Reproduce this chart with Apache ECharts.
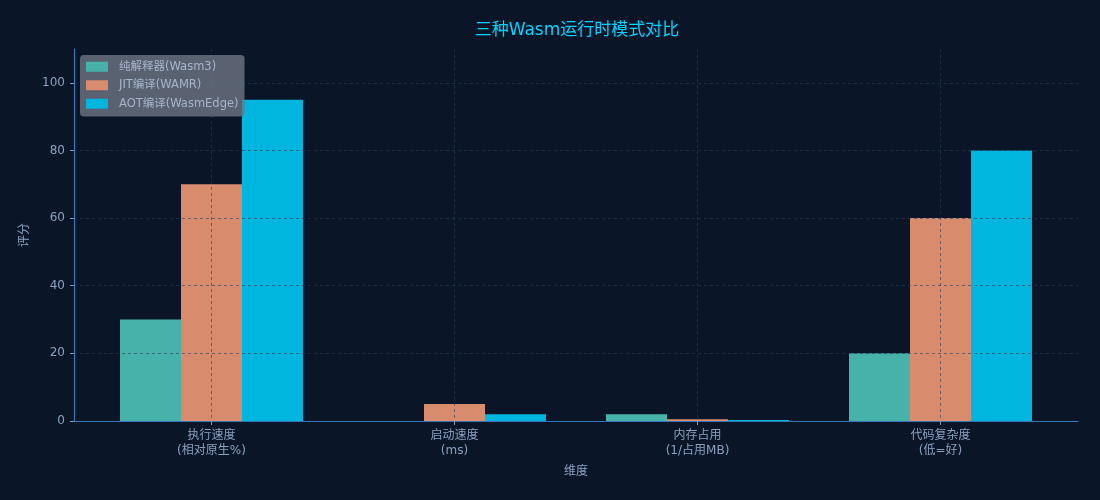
<!DOCTYPE html>
<html>
<head>
<meta charset="utf-8">
<script src="https://cdn.jsdelivr.net/npm/echarts@6/dist/echarts.min.js"></script>
<style>
  html, body { margin: 0; padding: 0; background: #0a1628; }
  #main { width: 1100px; height: 500px; }
</style>
</head>
<body>
<div id="main"></div>
<script>
// 维度 & 各运行时模式评分
var categories = ['执行速度\n(相对原生%)', '启动速度\n(ms)', '内存占用\n(1/占用MB)', '代码复杂度\n(低=好)'];
var seriesNames = ['纯解释器(Wasm3)', 'JIT编译(WAMR)', 'AOT编译(WasmEdge)'];
var interpScores = [30, 0, 2, 20];
var jitScores = [70, 5, 0.5, 60];
var aotScores = [95, 2, 0.3, 80];
var yTicks = [0, 20, 40, 60, 80, 100];

var colors = ['#46b2aa', '#d98b6e', '#00b5de'];
var catIdx = categories.map(function (c, i) { return i; });
var fontFam = 'DejaVu Sans, Noto Sans CJK SC, sans-serif';
var textColor = '#8aa0c0';
var spineColor = '#3575b5';
var gridLine = { show: true, lineStyle: { color: 'rgba(40,60,90,0.6)', type: [3, 3], width: 1 } };

// 两侧留白: 让每个类别正好占 243px, 柱子边缘落在整像素上
var plotWidth = 1004, unitPx = 243;
var sidePad = (plotWidth - (categories.length - 1) * unitPx) / 2 / unitPx;

function toPairs(arr) {
    return arr.map(function (v, i) { return [i, v]; });
}

function barSeries(k, values) {
    return {
        name: seriesNames[k],
        type: 'bar',
        barWidth: 61,
        barGap: '0%',
        data: toPairs(values),
        itemStyle: { color: colors[k] }
    };
}

var myChart = echarts.init(document.getElementById('main'));

var option = {
    backgroundColor: '#0a1628',
    textStyle: { fontFamily: fontFam },
    title: {
        text: '三种Wasm运行时模式对比',
        left: 572,
        textAlign: 'center',
        top: 17,
        textStyle: { color: '#00d4ff', fontSize: 17, fontWeight: 'normal', fontFamily: fontFam }
    },
    legend: {
        data: seriesNames,
        orient: 'vertical',
        left: 80,
        top: 55,
        z: 20,
        padding: [6, 6, 7, 6],
        itemGap: 7,
        itemWidth: 22,
        itemHeight: 10,
        icon: 'rect',
        backgroundColor: 'rgba(110,118,132,0.8)',
        borderRadius: 4,
        textStyle: { color: '#a6b4cc', fontSize: 11.5, fontFamily: fontFam, padding: [0, 0, 0, 6] }
    },
    grid: { left: 74, right: 22, top: 49, bottom: 79 },
    xAxis: {
        type: 'value',
        min: -sidePad,
        max: categories.length - 1 + sidePad,
        z: 5,
        name: '维度',
        nameLocation: 'middle',
        nameGap: 45,
        nameTextStyle: { color: textColor, fontSize: 12 },
        axisLine: { show: true, onZero: false, lineStyle: { color: spineColor, width: 1.2 } },
        axisTick: { show: true, customValues: catIdx, length: 4, lineStyle: { color: '#8a98b0' } },
        axisLabel: {
            customValues: catIdx,
            color: textColor,
            fontSize: 12,
            lineHeight: 15,
            margin: 7,
            formatter: function (v) { return categories[Math.round(v)]; }
        },
        splitLine: gridLine
    },
    yAxis: {
        type: 'value',
        min: 0,
        max: 110,
        interval: 20,
        z: 5,
        name: '评分',
        nameLocation: 'middle',
        nameGap: 41,
        nameRotate: 90,
        nameTextStyle: { color: textColor, fontSize: 12 },
        axisLine: { show: true, onZero: false, lineStyle: { color: spineColor, width: 1.2 } },
        axisTick: { show: true, customValues: yTicks, length: 4, lineStyle: { color: '#8a98b0' } },
        axisLabel: { customValues: yTicks, color: textColor, fontSize: 12, margin: 9 },
        splitLine: gridLine
    },
    series: [
        barSeries(0, interpScores),
        barSeries(1, jitScores),
        barSeries(2, aotScores)
    ]
};

myChart.setOption(option);
</script>
</body>
</html>
